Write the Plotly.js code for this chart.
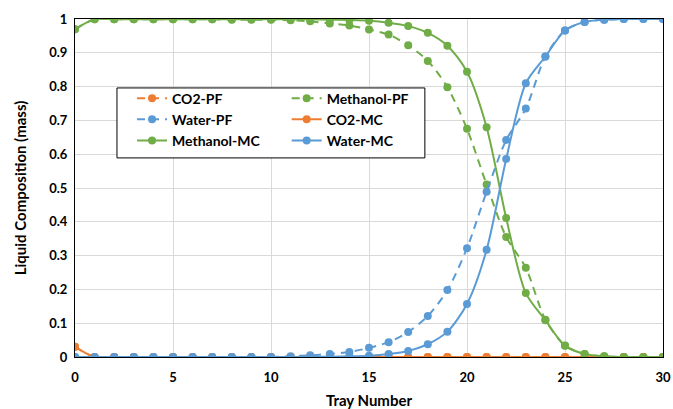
<!DOCTYPE html>
<html>
<head>
<meta charset="utf-8">
<script src="https://cdn.plot.ly/plotly-3.0.1.min.js"></script>
<style>html,body{margin:0;padding:0;background:#fff;}#chart{width:673px;height:409px;}</style>
</head>
<body>
<div id="chart"></div>
<script>
const trays = [0,1,2,3,4,5,6,7,8,9,10,11,12,13,14,15,16,17,18,19,20,21,22,23,24,25,26,27,28,29,30];
const co2PF = [0.03,0,0,0,0,0,0,0,0,0,0,0,0,0,0,0,0,0,0,0,0,0,0,0,0,0,0,0,0,0,0];
const methanolPF = [0.97,0.999,0.999,0.999,0.999,0.999,0.999,0.999,0.998,0.998,0.998,0.996,0.993,0.987,0.981,0.969,0.954,0.922,0.876,0.798,0.675,0.51,0.355,0.264,0.11,0.034,0.009,0.002,0,0,0];
const waterPF = [0,0,0,0,0,0,0,0,0,0,0,0.002,0.005,0.009,0.015,0.027,0.044,0.074,0.121,0.198,0.322,0.489,0.642,0.735,0.889,0.966,0.991,0.998,1,1,1];
const co2MC = [0.03,0,0,0,0,0,0,0,0,0,0,0,0,0,0,0,0,0,0,0,0,0,0,0,0,0,0,0,0,0,0];
const methanolMC = [0.97,0.999,0.999,0.999,0.999,0.999,0.999,0.999,0.999,0.999,0.999,0.999,0.999,0.998,0.997,0.995,0.989,0.979,0.959,0.921,0.844,0.68,0.411,0.189,0.109,0.033,0.009,0.002,0,0,0];
const waterMC = [0,0,0,0,0,0,0,0,0,0,0,0,0,0.001,0.002,0.004,0.009,0.018,0.038,0.075,0.157,0.317,0.586,0.81,0.889,0.966,0.991,0.998,1,1,1];
const seriesNames = ['CO2-PF','Methanol-PF','Water-PF','CO2-MC','Methanol-MC','Water-MC'];
const xTickVals = [0,5,10,15,20,25,30];

const ORANGE = '#ED7D31', GREEN = '#70AD47', BLUE = '#5B9BD5';
const DASH = '8px,6px';
function tr(y, name, color, dash, legend) {
  return {
    x: trays, y: y, name: name, type: 'scatter', mode: 'lines+markers',
    line: {color: color, width: 2, dash: dash, shape: 'spline', smoothing: 0.8},
    marker: {color: color, size: 8},
    legend: legend
  };
}
const data = [
  tr(co2PF, seriesNames[0], ORANGE, DASH, 'legend'),
  tr(methanolPF, seriesNames[1], GREEN, DASH, 'legend2'),
  tr(waterPF, seriesNames[2], BLUE, DASH, 'legend'),
  tr(co2MC, seriesNames[3], ORANGE, 'solid', 'legend2'),
  tr(methanolMC, seriesNames[4], GREEN, 'solid', 'legend'),
  tr(waterMC, seriesNames[5], BLUE, 'solid', 'legend2')
];
const FONT = 'Lato, "Open Sans", sans-serif';
const legendCommon = {
  orientation: 'v', xanchor: 'left', yanchor: 'top',
  bgcolor: 'rgba(0,0,0,0)', borderwidth: 0,
  font: {family: FONT, size: 14, color: '#000', weight: 'bold'},
  traceorder: 'normal', tracegroupgap: 0
};
const layout = {
  width: 673, height: 409,
  margin: {l: 75, r: 10, t: 19, b: 52},
  paper_bgcolor: '#fff', plot_bgcolor: '#fff',
  font: {family: FONT, size: 13, color: '#000', weight: 'bold'},
  showlegend: true,
  legend: Object.assign({}, legendCommon, {x: 0.097, y: 0.812}),
  legend2: Object.assign({}, legendCommon, {x: 0.36, y: 0.812}),
  xaxis: {
    range: [0, 30], tickvals: xTickVals, ticktext: xTickVals.map(String),
    showgrid: true, gridcolor: '#D9D9D9', gridwidth: 1,
    showline: true, linecolor: '#000', linewidth: 1, mirror: true,
    ticks: '', zeroline: false, ticklabelstandoff: 8,
    tickfont: {family: FONT, size: 13, weight: 'bold'},
    title: {text: 'Tray Number', font: {family: FONT, size: 15, weight: 'bold'}, standoff: 15},
    automargin: false
  },
  yaxis: {
    range: [0, 1], dtick: 0.1, tick0: 0,
    showgrid: true, gridcolor: '#D9D9D9', gridwidth: 1,
    showline: true, linecolor: '#000', linewidth: 1, mirror: true,
    ticks: '', zeroline: false, ticklabelstandoff: 4,
    tickfont: {family: FONT, size: 13, weight: 'bold'},
    title: {text: 'Liquid Composition (mass)', font: {family: FONT, size: 15, weight: 'bold'}, standoff: 18},
    automargin: false
  },
  shapes: [{
    type: 'rect', xref: 'paper', yref: 'paper', layer: 'above',
    x0: 0.0714, x1: 0.595, y0: 0.589, y1: 0.796,
    fillcolor: '#fff', line: {color: '#000', width: 1}
  }]
};
Plotly.newPlot('chart', data, layout, {displayModeBar: false, staticPlot: true});
</script>
</body>
</html>
